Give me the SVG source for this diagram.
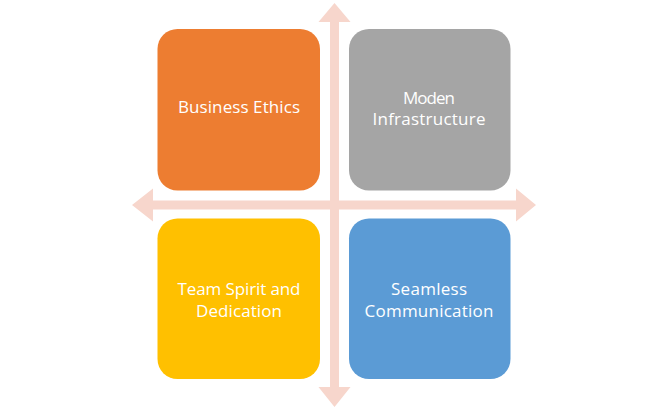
<svg xmlns="http://www.w3.org/2000/svg" width="668" height="409" viewBox="0 0 668 409">
<style>
.box{stroke:none}
.lbl{font-family:"Open Sans","Liberation Sans",Arial,sans-serif;font-size:17px;fill:#ffffff;text-anchor:middle}
.arr{fill:#F7D6CC;stroke:none}
</style>
<rect width="668" height="409" fill="#ffffff"/>
<g id="connectors">
<polygon class="arr" points="132,205 153,188.5 153,200.5 516,200.5 516,188.5 536,205 516,221.5 516,209.5 153,209.5 153,221.5"/>
<polygon class="arr" points="334.5,3 350.5,22 339,22 339,387 350.5,387 334.5,407 318.5,387 330,387 330,22 318.5,22"/>
</g>
<g id="business-ethics">
<rect class="box" x="157.5" y="29" width="162.5" height="161.5" rx="20" fill="#ED7D31"/>
<text class="lbl" x="239" y="113" textLength="122">Business Ethics</text>
</g>
<g id="moden-infrastructure">
<rect class="box" x="349" y="29" width="161.5" height="161.5" rx="20" fill="#A5A5A5"/>
<text class="lbl" x="429" y="104" textLength="52">Moden</text>
<text class="lbl" x="429" y="125" textLength="113">Infrastructure</text>
</g>
<g id="team-spirit">
<rect class="box" x="157.5" y="218.5" width="162.5" height="160.5" rx="20" fill="#FFC000"/>
<text class="lbl" x="239" y="295" textLength="123">Team Spirit and</text>
<text class="lbl" x="239" y="317" textLength="86">Dedication</text>
</g>
<g id="seamless-communication">
<rect class="box" x="349" y="218.5" width="161.5" height="160.5" rx="20" fill="#5B9BD5"/>
<text class="lbl" x="429" y="295" textLength="76">Seamless</text>
<text class="lbl" x="429" y="317" textLength="129">Communication</text>
</g>
</svg>
